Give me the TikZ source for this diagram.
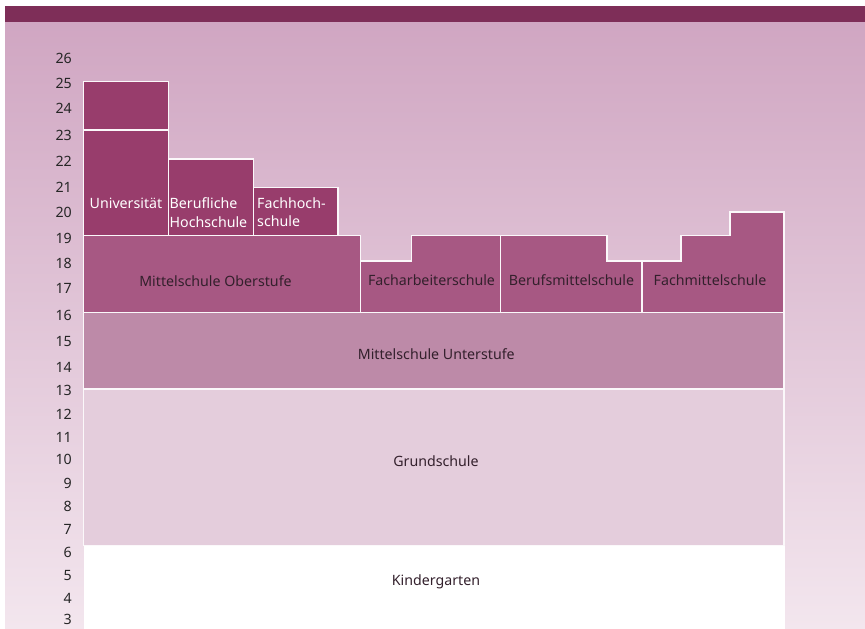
\documentclass[tikz,border=0pt]{standalone}
\usepackage{fontspec}
\setmainfont{Noto Sans}
\usepackage{tikz}
\usetikzlibrary{positioning}
\definecolor{BarPurple}{HTML}{7E2E58}
\definecolor{TopPink}{HTML}{D0A6C2}
\definecolor{LowPink}{HTML}{F3E6EE}
\definecolor{TertPurple}{HTML}{983D6C}
\definecolor{SecPurple}{HTML}{A75883}
\definecolor{UnterPink}{HTML}{BD8AA8}
\definecolor{GrundPink}{HTML}{E4CDDC}
\definecolor{LabelDark}{HTML}{33202C}
\tikzset{
  edbox/.style={draw=white!92!TopPink, line width=1.6pt},
  tertbox/.style={edbox, fill=TertPurple},
  secbox/.style={edbox, fill=SecPurple},
  whitelabel/.style={text=white, font=\fontsize{14.2}{18.7}\selectfont, inner sep=0pt, align=left},
  darklabel/.style={text=LabelDark, font=\fontsize{14.2}{18.7}\selectfont, inner sep=0pt},
  agelabel/.style={text=black!85, font=\fontsize{14.2}{16}\selectfont, anchor=east, inner sep=0pt}
}

\begin{document}
\begin{tikzpicture}[x=1pt, y=-1pt]
  \useasboundingbox (0,0) rectangle (865,629);
  \fill[white] (0,0) rectangle (865,629);
  \shade[top color=TopPink, bottom color=LowPink] (5,22) rectangle (865,629);
  \fill[BarPurple] (5,6) rectangle (865,22);

  \path[tertbox] (83.5,81.5) rectangle (168.5,130);
  \path[tertbox] (83.5,130) rectangle (168.5,235.3);
  \path[tertbox] (168.5,159) rectangle (253.3,235.3);
  \path[tertbox] (253.3,187.5) rectangle (338,235.3);

  \path[secbox] (83.5,235.5) rectangle (360.5,312.5);
  \path[secbox] (360.5,261) -- (411.5,261) -- (411.5,235.5) -- (500.5,235.5) -- (500.5,312.5) -- (360.5,312.5) -- cycle;
  \path[secbox] (500.5,235.5) -- (607,235.5) -- (607,261) -- (642.2,261) -- (642.2,312.5) -- (500.5,312.5) -- cycle;
  \path[secbox] (642.2,261) -- (681,261) -- (681,235.5) -- (730,235.5) -- (730,212) -- (784,212) -- (784,312.5) -- (642.2,312.5) -- cycle;

  \path[edbox, fill=UnterPink] (83.5,312.5) rectangle (784,389);
  \path[edbox, fill=GrundPink] (83.5,389) rectangle (784,545.5);
  \fill[white] (83.5,546.3) rectangle (785,629);

  \foreach \age/\ypos in {26/58, 25/83, 24/108.5, 23/135, 22/161, 21/187, 20/212.5, 19/238,
      18/263, 17/288.5, 16/315, 15/341, 14/367, 13/390, 12/414, 11/437, 10/459.5, 9/483,
      8/506, 7/529, 6/552, 5/575.5, 4/598, 3/619.5}
    \node[agelabel] (age\age) at (72,\ypos) {\age};

  \node[whitelabel] (uni) at (126,203) {Universität};
  \node[whitelabel, anchor=west] (berufhs) at (169.5,212.3) {Berufliche\\Hochschule};
  \node[whitelabel, anchor=west] (fachhs) at (257,212.3) {Fachhoch-\\schule};

  \node[darklabel] (oberstufe) at (215.5,281) {Mittelschule Oberstufe};
  \node[darklabel] (facharb) at (431.5,280) {Facharbeiterschule};
  \node[darklabel] (berufsm) at (571.5,280) {Berufsmittelschule};
  \node[darklabel] (fachm) at (710,280) {Fachmittelschule};
  \node[darklabel] (unterstufe) at (436.3,354.3) {Mittelschule Unterstufe};
  \node[darklabel] (grund) at (436,460.7) {Grundschule};
  \node[darklabel] (kinder) at (436,581.7) {Kindergarten};
\end{tikzpicture}
\end{document}
